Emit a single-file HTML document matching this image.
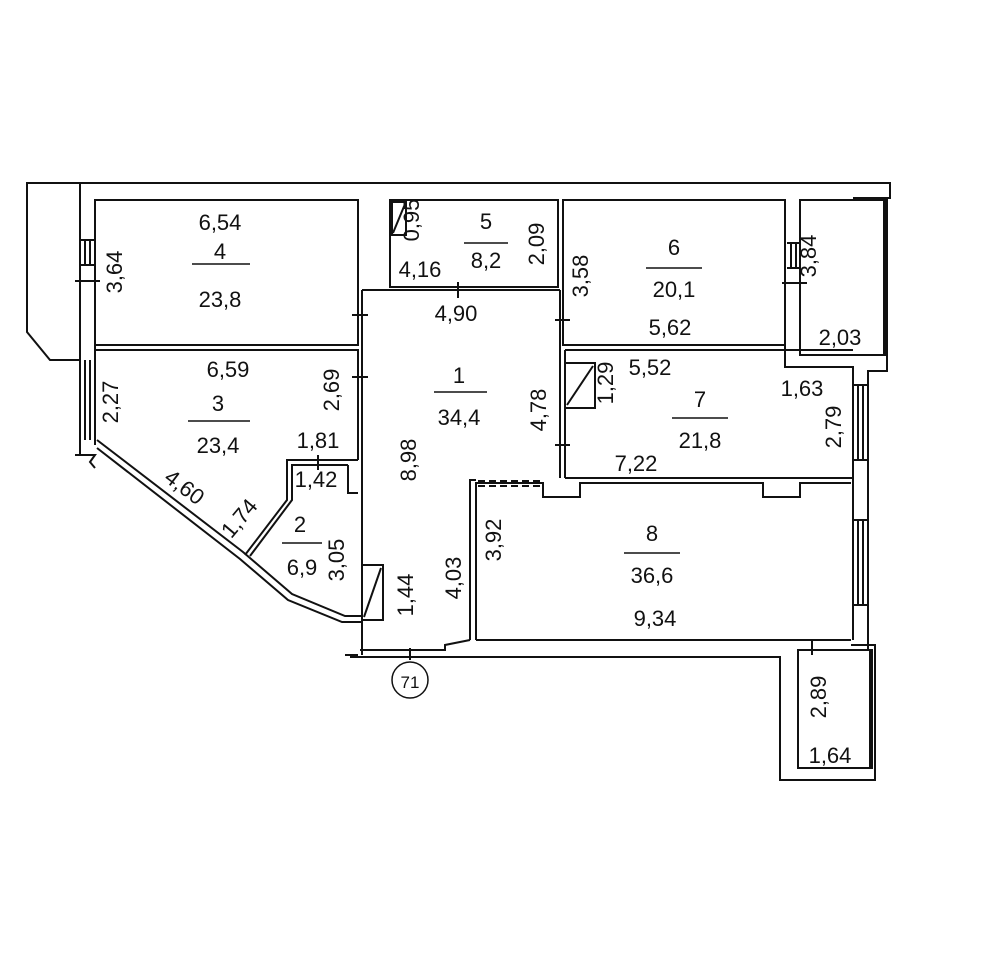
<!DOCTYPE html>
<html><head><style>
html,body{margin:0;padding:0;background:#fff}
svg{display:block}
text{font-family:"Liberation Sans",Arial,sans-serif;fill:#111}
</style></head><body>
<svg width="1000" height="964" viewBox="0 0 1000 964" xmlns="http://www.w3.org/2000/svg">
<g fill="none" stroke="#111" stroke-width="2">
<polyline points="80,183 27,183 27,332 50,360 80,360"/>
<polyline points="80,455 80,183 890,183 890,198 853,198"/>
<line x1="95" y1="200" x2="95" y2="445"/>
<rect x="95" y="200" width="263" height="145"/>
<polyline points="95,350 358,350 358,460"/>
<line x1="362" y1="290" x2="362" y2="655"/>
<rect x="390" y="200" width="168" height="87"/>
<rect x="392" y="202" width="14" height="33"/>
<line x1="393" y1="233" x2="405" y2="204"/>
<line x1="362" y1="290" x2="560" y2="290"/>
<rect x="563" y="200" width="222" height="145"/>
<line x1="560" y1="290" x2="560" y2="478"/>
<rect x="800" y="200" width="87" height="155"/>
<line x1="885" y1="200" x2="885" y2="355" stroke-width="4"/>
<polyline points="785,345 785,367 853,367 853,640"/>
<polyline points="887,355 887,371 868,371 868,650"/>
<polyline points="565,350 853,350"/>
<line x1="565" y1="350" x2="565" y2="478"/>
<rect x="565" y="363" width="30" height="45"/>
<line x1="567" y1="405" x2="593" y2="366"/>
<line x1="565" y1="478" x2="853" y2="478"/>
<polyline points="476,640 476,483 543,483 543,497 580,497 580,483 763,483 763,497 800,497 800,483 851,483"/>
<polyline points="470,640 470,480 476,480"/>
<line x1="478" y1="481" x2="543" y2="481" stroke-dasharray="7,4"/>
<line x1="478" y1="486" x2="543" y2="486" stroke-dasharray="7,4"/>
<line x1="476" y1="640" x2="851" y2="640"/>
<line x1="853" y1="385" x2="868" y2="385"/><line x1="853" y1="460" x2="868" y2="460"/>
<line x1="858" y1="385" x2="858" y2="460"/><line x1="863" y1="385" x2="863" y2="460"/>
<line x1="853" y1="520" x2="868" y2="520"/><line x1="853" y1="605" x2="868" y2="605"/>
<line x1="858" y1="520" x2="858" y2="605"/><line x1="863" y1="520" x2="863" y2="605"/>
<line x1="80" y1="240" x2="95" y2="240"/><line x1="80" y1="265" x2="95" y2="265"/>
<line x1="85" y1="240" x2="85" y2="265"/><line x1="90" y1="240" x2="90" y2="265"/>
<line x1="75" y1="281" x2="100" y2="281"/>
<line x1="85" y1="360" x2="85" y2="440"/><line x1="90" y1="360" x2="90" y2="440"/>
<line x1="787" y1="243" x2="800" y2="243"/><line x1="787" y1="268" x2="800" y2="268"/>
<line x1="791" y1="243" x2="791" y2="268"/><line x1="796" y1="243" x2="796" y2="268"/>
<line x1="782" y1="283" x2="807" y2="283"/>
<polyline points="360,650 445,650 445,645 470,640"/>
<polyline points="350,657 780,657 780,780 875,780 875,645 851,645"/>
<rect x="798" y="650" width="74" height="118"/>
<line x1="871" y1="650" x2="871" y2="768" stroke-width="4"/>
<line x1="812" y1="640" x2="812" y2="655"/>
<line x1="410" y1="648" x2="410" y2="660"/>
<polyline points="358,460 287,460 287,500 245,555"/>
<polyline points="348,465 292,465 292,500 250,556"/>
<polyline points="348,465 348,493 358,493"/>
<polyline points="97,440 243,552 292,594 345,616 362,616"/>
<polyline points="97,448 240,559 288,600 342,622 362,622"/>
<rect x="362" y="565" width="21" height="55"/>
<line x1="364" y1="617" x2="381" y2="568"/>
<line x1="352" y1="315" x2="368" y2="315"/><line x1="352" y1="377" x2="368" y2="377"/>
<line x1="555" y1="320" x2="570" y2="320"/><line x1="555" y1="445" x2="570" y2="445"/>
<line x1="458" y1="282" x2="458" y2="298"/><line x1="318" y1="455" x2="318" y2="470"/>
<polyline points="75,455 95,455 90,462 95,468"/>
<polyline points="345,655 358,655"/>
<circle cx="410" cy="680" r="18" stroke-width="1.5"/>
<line x1="192" y1="264" x2="250" y2="264" stroke-width="1.5"/>
<line x1="188" y1="421" x2="250" y2="421" stroke-width="1.5"/>
<line x1="434" y1="392" x2="487" y2="392" stroke-width="1.5"/>
<line x1="464" y1="243" x2="508" y2="243" stroke-width="1.5"/>
<line x1="646" y1="268" x2="702" y2="268" stroke-width="1.5"/>
<line x1="672" y1="418" x2="728" y2="418" stroke-width="1.5"/>
<line x1="624" y1="553" x2="680" y2="553" stroke-width="1.5"/>
<line x1="282" y1="543" x2="322" y2="543" stroke-width="1.5"/>
</g>
<g font-size="22" text-anchor="middle">
<text x="220" y="230">6,54</text>
<text x="220" y="259">4</text>
<text x="220" y="307">23,8</text>
<text x="122" y="272" transform="rotate(-90 122 272)">3,64</text>
<text x="228" y="377">6,59</text>
<text x="218" y="411">3</text>
<text x="218" y="453">23,4</text>
<text x="118" y="402" transform="rotate(-90 118 402)">2,27</text>
<text x="339" y="390" transform="rotate(-90 339 390)">2,69</text>
<text x="318" y="448">1,81</text>
<text x="316" y="487">1,42</text>
<text x="300" y="532">2</text>
<text x="302" y="575">6,9</text>
<text x="344" y="560" transform="rotate(-90 344 560)">3,05</text>
<text x="180" y="493" transform="rotate(37 180 493)">4,60</text>
<text x="245" y="523" transform="rotate(-50 245 523)">1,74</text>
<text x="413" y="595" transform="rotate(-90 413 595)">1,44</text>
<text x="416" y="460" transform="rotate(-90 416 460)">8,98</text>
<text x="461" y="578" transform="rotate(-90 461 578)">4,03</text>
<text x="501" y="540" transform="rotate(-90 501 540)">3,92</text>
<text x="456" y="321">4,90</text>
<text x="459" y="383">1</text>
<text x="459" y="425">34,4</text>
<text x="546" y="410" transform="rotate(-90 546 410)">4,78</text>
<text x="613" y="383" transform="rotate(-90 613 383)">1,29</text>
<text x="419" y="220" transform="rotate(-90 419 220)">0,95</text>
<text x="420" y="277">4,16</text>
<text x="486" y="229">5</text>
<text x="486" y="268">8,2</text>
<text x="544" y="244" transform="rotate(-90 544 244)">2,09</text>
<text x="588" y="276" transform="rotate(-90 588 276)">3,58</text>
<text x="674" y="255">6</text>
<text x="674" y="297">20,1</text>
<text x="670" y="335">5,62</text>
<text x="816" y="256" transform="rotate(-90 816 256)">3,84</text>
<text x="840" y="345">2,03</text>
<text x="650" y="375">5,52</text>
<text x="700" y="407">7</text>
<text x="700" y="448">21,8</text>
<text x="802" y="396">1,63</text>
<text x="841" y="427" transform="rotate(-90 841 427)">2,79</text>
<text x="636" y="471">7,22</text>
<text x="652" y="541">8</text>
<text x="652" y="583">36,6</text>
<text x="655" y="626">9,34</text>
<text x="826" y="697" transform="rotate(-90 826 697)">2,89</text>
<text x="830" y="763">1,64</text>
<text x="410" y="688" font-size="17">71</text>
</g>
</svg>
</body></html>
